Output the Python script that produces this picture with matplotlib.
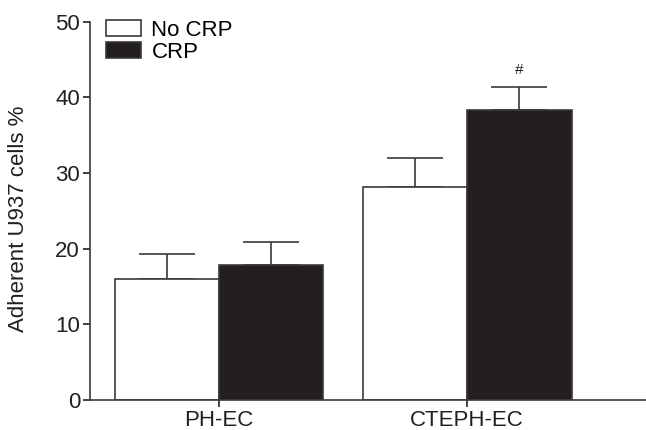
import numpy as np
import matplotlib.pyplot as plt

plt.rcParams['font.family'] = ['Liberation Sans', 'DejaVu Sans']

# data
groups = ['PH-EC', 'CTEPH-EC']
no_crp = [16.0, 28.2]
no_crp_err = [3.3, 3.8]
crp = [17.8, 38.3]
crp_err = [3.1, 3.1]

fig = plt.figure(figsize=(6.46, 4.30), dpi=100)
ax = fig.add_axes([0.139, 0.0698, 0.861, 0.8797])

x = np.arange(len(groups))
w = 0.42
edge = '#3a3a3a'
ax.bar(x - w / 2, no_crp, w, color='white', edgecolor=edge, linewidth=1.2,
       label='No CRP', zorder=2)
ax.bar(x + w / 2, crp, w, color='#231f20', edgecolor=edge, linewidth=1.2,
       label='CRP', zorder=2)
ax.errorbar(x - w / 2, no_crp, yerr=[np.zeros(2), no_crp_err], fmt='none',
            ecolor=edge, elinewidth=1.2, capsize=20, capthick=1.2, zorder=1)
ax.errorbar(x + w / 2, crp, yerr=[np.zeros(2), crp_err], fmt='none',
            ecolor=edge, elinewidth=1.2, capsize=20, capthick=1.2, zorder=1)

ax.text(x[1] + w / 2, crp[1] + crp_err[1] + 1.3, '#', ha='center',
        va='bottom', fontsize=11, color='#231f20')

ax.set_xlim(-0.52, 1.72)
ax.set_ylim(0, 50)
ax.set_yticks([0, 10, 20, 30, 40, 50])
ax.set_xticks(x)
ax.set_xticklabels(groups)
ax.set_ylabel('Adherent U937 cells %', fontsize=16, color='#231f20')
ax.yaxis.set_label_coords(-0.11, 0.48)
ax.tick_params(labelsize=16, colors='#231f20', length=5, width=1.2, pad=2)
for s in ['top', 'right']:
    ax.spines[s].set_visible(False)
for s in ['left', 'bottom']:
    ax.spines[s].set_color(edge)
    ax.spines[s].set_linewidth(1.2)

ax.legend(loc='upper left', bbox_to_anchor=(0.029, 1.005), frameon=False,
          fontsize=16, handlelength=1.6, handleheight=0.7, labelspacing=0.05,
          handletextpad=0.45, borderpad=0, borderaxespad=0)

fig.savefig('out.png', dpi=100)
